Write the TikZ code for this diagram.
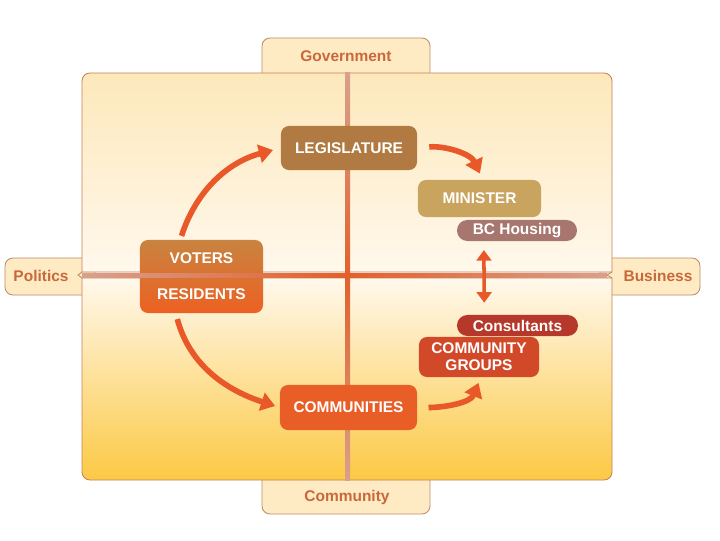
\documentclass[tikz,border=0pt]{standalone}
\usepackage{fontspec}
\setsansfont{Liberation Sans}
\usetikzlibrary{arrows.meta}

\definecolor{panelline}{HTML}{C58059}
\definecolor{paneltop}{HTML}{FDE8BB}
\definecolor{panelmid}{HTML}{FFF8EC}
\definecolor{panelbot}{HTML}{FCC944}
\definecolor{tabfill}{HTML}{FEEBC4}
\definecolor{tabline}{HTML}{BC8A67}
\definecolor{tabtext}{HTML}{C9683A}
\definecolor{sepmid}{HTML}{E2602A}
\definecolor{sepend}{HTML}{D9A08C}
\definecolor{legiscol}{HTML}{B07A42}
\definecolor{ministcol}{HTML}{C9A45F}
\definecolor{bchcol}{HTML}{A7776F}
\definecolor{votertop}{HTML}{C98340}
\definecolor{voterbot}{HTML}{EC6122}
\definecolor{commcol}{HTML}{E95D26}
\definecolor{groupcol}{HTML}{D2492A}
\definecolor{conscol}{HTML}{B6382A}
\definecolor{arrowcol}{HTML}{E95828}

\begin{document}
\begin{tikzpicture}[x=0.025cm,y=0.025cm,>={Triangle[length=10pt,width=13pt]},
  every node/.style={font=\sffamily\bfseries\fontsize{11}{12}\selectfont},
  box/.style={rounded corners=0.2cm,text=white,inner sep=0pt,align=center},
  pill/.style={rounded corners=0.26cm,text=white,inner sep=0pt},
  tab/.style={draw=tabline,fill=tabfill,line width=0.6pt},
  tablabel/.style={text=tabtext},
  panel/.style={draw=panelline,line width=0.6pt},
  flow/.style={->,color=arrowcol,line width=4pt}]

\useasboundingbox (0,0) rectangle (720,540);

% tabs
\draw[tab,rounded corners=0.2cm] (262,467) -- (262,502) -- (430,502) -- (430,467);
\draw[tab,rounded corners=0.2cm] (262,60) -- (262,26) -- (430,26) -- (430,60);
\draw[tab,rounded corners=0.2cm] (95,245) rectangle (5,282);
\draw[tab,rounded corners=0.2cm] (600,245) rectangle (700,282);

% quadrants
\draw[panel,top color=paneltop,bottom color=panelmid]
  (82,268) [rounded corners=0.2cm] -- (82,467) -- (612,467) [sharp corners] -- (612,268) -- cycle;
\draw[panel,top color=panelmid,bottom color=panelbot]
  (612,262) [rounded corners=0.2cm] -- (612,60) -- (82,60) [sharp corners] -- (82,262) -- cycle;
\draw[tabline,line width=0.6pt] (82,268) -- (78,265) -- (82,262);
\draw[tabline,line width=0.6pt] (612,268) -- (607,265) -- (612,262);

\node[box,top color=votertop,bottom color=voterbot,minimum width=3.075cm,minimum height=1.825cm]
  (voters) at (201.5,263.5) {VOTERS\\[13.5pt]RESIDENTS};

% axes
\shade[left color=sepend,right color=sepend,middle color=sepmid] (82,263) rectangle (607,267);
\shade[top color=sepend,bottom color=sepend,middle color=sepmid] (345,60) rectangle (350,467);

\node[tablabel] (gov)  at (346,484) {Government};
\node[tablabel] (comm) at (347,43)  {Community};
\node[tablabel] (pol)  at (41,264)  {Politics};
\node[tablabel] (bus)  at (658,264) {Business};

\node[box,fill=legiscol,minimum width=3.4cm,minimum height=1.1cm]    (legis)  at (349,392)   {LEGISLATURE};
\node[box,fill=ministcol,minimum width=3.075cm,minimum height=0.925cm] (minist) at (479.5,341.5) {MINISTER};
\node[pill,fill=bchcol,minimum width=3cm,minimum height=0.525cm]     (bch)    at (517,309.5) {BC Housing};
\node[pill,fill=conscol,minimum width=3.025cm,minimum height=0.525cm] (cons)  at (517.5,214.5) {Consultants};
\node[box,fill=groupcol,minimum width=3cm,minimum height=1cm]        (groups) at (479,183)   {COMMUNITY\\GROUPS};
\node[box,fill=commcol,minimum width=3.425cm,minimum height=1.125cm] (commun) at (348.5,132.5) {COMMUNITIES};

\path[flow] (voters.120) edge[out=72,in=195,shorten <=0.1cm,shorten >=0.2cm] (legis.west)
            (voters.235) edge[out=-75,in=162,shorten <=0.15cm,shorten >=0.12cm] (commun.west)
            (legis.east) edge[out=5,in=115,shorten <=0.3cm,shorten >=0.17cm] (minist.80)
            (commun.east) edge[out=0,in=-112,shorten <=0.28cm,shorten >=0.15cm] (groups.-85);
\path[<->,>={Triangle[length=7.5pt,width=10.5pt]},color=arrowcol,line width=2.5pt]
            (bch.198) edge[shorten <=0.22cm,shorten >=0.3cm] (cons.162);

\end{tikzpicture}
\end{document}
